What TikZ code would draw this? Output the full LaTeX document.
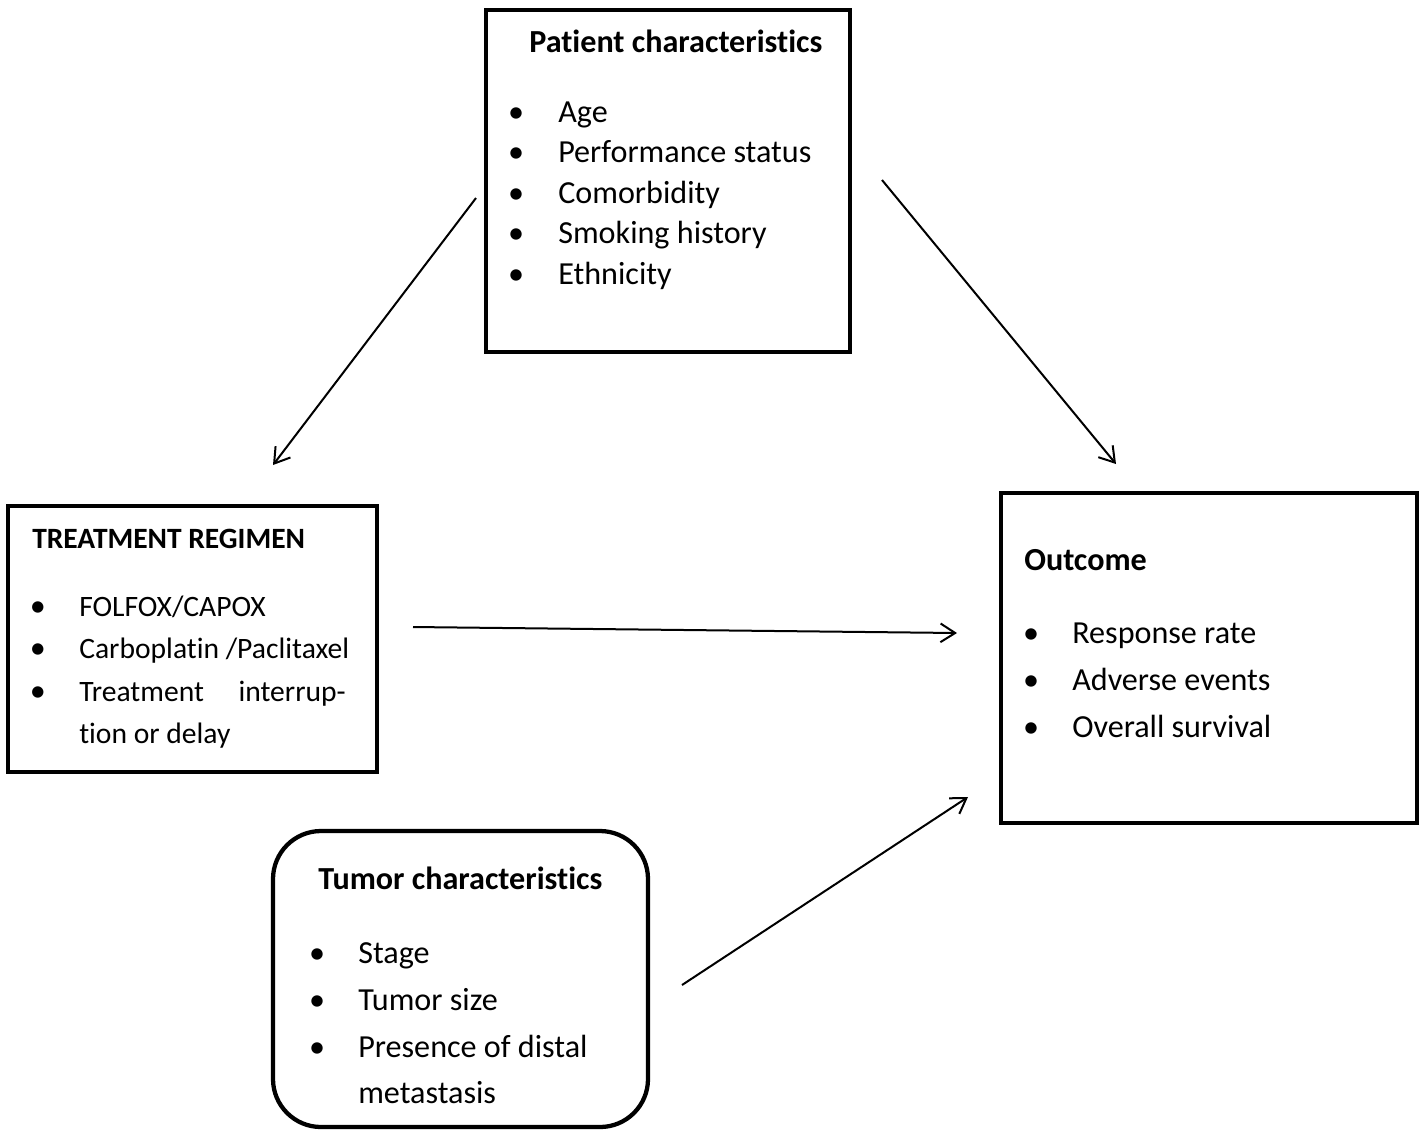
\documentclass[tikz,border=0pt]{standalone}
\usepackage{fontspec}
\setmainfont{Carlito}[Ligatures={NoCommon}]
\usetikzlibrary{arrows.meta}
\begin{document}
\begin{tikzpicture}[x=0.75pt,y=-0.75pt,
  box/.style={draw=black,line width=3.2pt,rectangle,inner sep=0pt,outer sep=0pt},
  rbox/.style={box,rounded corners=36pt},
  txt/.style={anchor=base west,inner sep=0pt,font=\fontsize{24.1}{29}\selectfont},
  ttl/.style={anchor=base west,inner sep=0pt,font=\fontsize{24.1}{29}\selectfont\bfseries},
  txtsmall/.style={anchor=base west,inner sep=0pt,font=\fontsize{22.2}{27}\selectfont},
  ttlsmall/.style={anchor=base west,inner sep=0pt,font=\fontsize{22.1}{27}\selectfont\bfseries},
  bul/.style={anchor=base,inner sep=0pt,font=\fontsize{24.1}{29}\selectfont},
  conn/.style={line width=1.5pt,-{Straight Barb[length=11pt,width=14pt,line width=1.5pt]}}]
\useasboundingbox (0,0) rectangle (1419,1129);
\fill[white] (0,0) rectangle (1419,1129);
% boxes
\node[box,minimum width=364*0.75pt,minimum height=342*0.75pt] (patient) at (668,181) {};
\node[box,minimum width=369*0.75pt,minimum height=266*0.75pt] (treat) at (192.5,639) {};
\node[box,minimum width=416*0.75pt,minimum height=330*0.75pt] (outcome) at (1209,658) {};
\node[rbox,minimum width=375*0.75pt,minimum height=296*0.75pt] (tumor) at (460.5,979) {};
% patient
\node[ttl] (pt) at (529,52) {Patient characteristics};
\node[bul] (pb1) at (516,122) {•};
\node[txt] (p1) at (558,122) {Age};
\node[bul] (pb2) at (516,162.5) {•};
\node[txt] (p2) at (558,162.5) {Performance status};
\node[bul] (pb3) at (516,203) {•};
\node[txt] (p3) at (558,203) {Comorbidity};
\node[bul] (pb4) at (516,243.5) {•};
\node[txt] (p4) at (558,243.5) {Smoking history};
\node[bul] (pb5) at (516,284) {•};
\node[txt] (p5) at (558,284) {Ethnicity};
% treatment
\node[ttlsmall] (tt) at (32,548) {TREATMENT REGIMEN};
\node[bul] (tb1) at (38,616) {•};
\node[txtsmall] (t1) at (79,616) {FOLFOX/CAPOX};
\node[bul] (tb2) at (38,658) {•};
\node[txtsmall] (t2) at (79,658) {Carboplatin /Paclitaxel};
\node[bul] (tb3) at (38,701) {•};
\node[txtsmall] (t3) at (79,701) {Treatment};
\node[txtsmall,anchor=base east] (t3b) at (346,701) {interrup-};
\node[txtsmall] (t4) at (79,743) {tion or delay};
% outcome
\node[ttl] (ot) at (1024,570) {Outcome};
\node[bul] (ob1) at (1031,643) {•};
\node[txt] (o1) at (1072,643) {Response rate};
\node[bul] (ob2) at (1031,690) {•};
\node[txt] (o2) at (1072,690) {Adverse events};
\node[bul] (ob3) at (1031,737) {•};
\node[txt] (o3) at (1072,737) {Overall survival};
% tumor
\node[ttl] (tut) at (318,889) {Tumor characteristics};
\node[bul] (ub1) at (317,963) {•};
\node[txt] (u1) at (358,963) {Stage};
\node[bul] (ub2) at (317,1010) {•};
\node[txt] (u2) at (358,1010) {Tumor size};
\node[bul] (ub3) at (317,1057) {•};
\node[txt] (u3) at (358,1057) {Presence of distal};
\node[txt] (u4) at (358,1103) {metastasis};
% connectors
\coordinate (a1s) at (476,198);
\coordinate (a1e) at (273,465);
\coordinate (a2s) at (882,180);
\coordinate (a2e) at (1116,464);
\coordinate (a3s) at (413,627);
\coordinate (a3e) at (957,633);
\coordinate (a4s) at (682,985);
\coordinate (a4e) at (968,797);
\draw[conn] (a1s) -- (a1e);
\draw[conn] (a2s) -- (a2e);
\draw[conn] (a3s) -- (a3e);
\draw[conn] (a4s) -- (a4e);
\end{tikzpicture}
\end{document}
